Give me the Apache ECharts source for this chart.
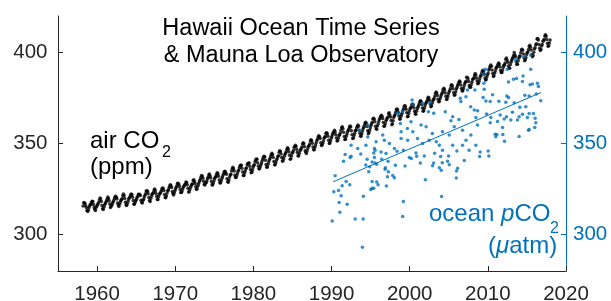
<!DOCTYPE html>
<html>
<head>
<meta charset="utf-8">
<script src="https://cdn.jsdelivr.net/npm/echarts@6.0.0/dist/echarts.min.js"></script>
<style>
  html, body { margin: 0; padding: 0; background: #fff; }
  #chart { width: 611px; height: 301px; }
</style>
</head>
<body>
<div id="chart"></div>
<script>
// Axis ticks
const xTicks = [1960, 1970, 1980, 1990, 2000, 2010, 2020];
const yTicks = [300, 350, 400];

// Mauna Loa monthly mean CO2 (ppm), starting March 1958, one row per year
const airStart = 1958 + 2.5 / 12;
const air1950s = [
  315.71, 317.45, 317.50, 317.10, 315.86, 314.93, 313.20, 312.66, 313.33, 314.67,
  315.62, 316.38, 316.71, 317.72, 318.29, 318.15, 316.54, 314.80, 313.84, 313.26, 314.80, 315.58,
];
const air1960s = [
  316.43, 316.97, 317.58, 319.02, 320.03, 319.59, 318.18, 315.91, 314.16, 313.83, 315.00, 316.19,
  316.93, 317.70, 318.54, 319.48, 320.58, 319.77, 318.57, 316.79, 314.80, 315.38, 316.10, 317.01,
  317.94, 318.56, 319.68, 320.63, 321.01, 320.55, 319.58, 317.40, 316.26, 315.42, 316.69, 317.69,
  318.74, 319.08, 319.86, 321.39, 322.25, 321.47, 319.74, 317.77, 316.21, 315.99, 317.12, 318.31,
  319.57, 320.07, 320.73, 321.77, 322.25, 321.89, 320.44, 318.70, 316.70, 316.79, 317.79, 318.71,
  319.44, 320.44, 320.89, 322.13, 322.16, 321.87, 321.39, 318.81, 317.81, 317.30, 318.87, 319.42,
  320.62, 321.59, 322.39, 323.87, 324.01, 323.75, 322.39, 320.37, 318.64, 318.10, 319.79, 321.08,
  322.07, 322.50, 323.04, 324.42, 325.00, 324.09, 322.55, 320.92, 319.31, 319.31, 320.72, 321.96,
  322.57, 323.15, 323.89, 325.02, 325.57, 325.36, 324.14, 322.03, 320.41, 320.25, 321.31, 322.84,
  324.00, 324.42, 325.64, 326.66, 327.34, 326.76, 325.88, 323.67, 322.38, 321.78, 322.85, 324.11,
];
const air1970s = [
  325.03, 325.99, 326.87, 328.13, 328.07, 327.66, 326.35, 324.69, 323.10, 323.16, 323.98, 325.13,
  326.17, 326.68, 327.18, 327.78, 328.92, 328.57, 327.34, 325.46, 323.36, 323.57, 324.80, 326.01,
  326.77, 327.63, 327.75, 329.72, 330.07, 329.09, 328.05, 326.32, 324.93, 325.06, 326.50, 327.55,
  328.54, 329.56, 330.30, 331.50, 332.48, 332.07, 330.87, 329.31, 327.51, 327.18, 328.16, 328.64,
  329.35, 330.71, 331.48, 332.65, 333.20, 332.16, 331.07, 329.12, 327.32, 327.28, 328.30, 329.58,
  330.73, 331.46, 331.90, 333.17, 333.94, 333.45, 331.97, 329.95, 328.50, 328.34, 329.37, 330.58,
  331.59, 332.75, 333.52, 334.64, 334.77, 334.00, 333.06, 330.68, 328.95, 328.75, 330.15, 331.62,
  332.66, 333.13, 334.95, 336.13, 336.93, 336.17, 334.88, 332.56, 331.29, 331.27, 332.41, 333.60,
  334.95, 335.25, 336.66, 337.69, 338.03, 338.01, 336.41, 334.41, 332.37, 332.41, 333.75, 334.90,
  336.14, 336.69, 338.27, 338.96, 339.21, 339.26, 337.54, 335.75, 333.98, 334.19, 335.31, 336.81,
];
const air1980s = [
  337.90, 338.34, 340.01, 340.93, 341.48, 341.33, 339.40, 337.70, 336.19, 336.15, 337.27, 338.32,
  339.29, 340.55, 341.61, 342.53, 343.03, 342.54, 340.78, 338.44, 336.95, 337.08, 338.58, 339.88,
  340.96, 341.73, 342.81, 343.97, 344.63, 343.79, 342.32, 340.09, 338.28, 338.29, 339.60, 340.90,
  341.68, 342.90, 343.33, 345.25, 346.03, 345.63, 344.19, 342.27, 340.35, 340.38, 341.59, 343.05,
  344.10, 344.79, 345.52, 346.84, 347.63, 346.98, 345.53, 343.55, 341.40, 341.67, 343.10, 344.70,
  345.21, 346.16, 347.74, 348.34, 349.06, 348.38, 346.72, 345.02, 343.27, 343.13, 344.49, 345.88,
  346.56, 347.28, 348.01, 349.77, 350.38, 349.93, 348.16, 346.08, 345.22, 344.51, 345.93, 347.22,
  348.52, 348.73, 349.73, 351.31, 352.09, 351.53, 350.11, 348.08, 346.52, 346.59, 347.96, 349.16,
  350.39, 351.64, 352.41, 353.69, 354.21, 353.72, 352.69, 350.40, 348.92, 349.13, 350.20, 351.41,
  352.91, 353.27, 353.96, 355.64, 355.86, 355.37, 353.99, 351.81, 350.05, 350.25, 351.49, 352.85,
];
const air1990s = [
  353.80, 355.04, 355.73, 356.32, 357.32, 356.34, 354.84, 353.01, 351.31, 351.62, 353.07, 354.33,
  354.84, 355.73, 357.23, 358.66, 359.13, 358.13, 356.19, 353.85, 352.25, 352.35, 353.81, 355.12,
  356.25, 357.11, 357.86, 359.09, 359.55, 359.00, 357.00, 354.78, 352.74, 353.07, 354.34, 355.57,
  357.00, 357.31, 358.47, 359.27, 360.19, 359.52, 357.33, 355.64, 354.03, 354.12, 355.41, 356.91,
  358.24, 358.92, 359.99, 361.23, 361.65, 360.83, 359.34, 357.05, 355.36, 355.88, 357.23, 358.63,
  359.83, 360.80, 361.66, 363.48, 363.82, 363.30, 361.94, 359.50, 358.11, 357.80, 359.61, 360.74,
  362.09, 363.29, 364.06, 364.76, 365.45, 365.01, 363.70, 361.54, 359.51, 359.65, 360.80, 362.38,
  363.23, 364.06, 364.61, 366.40, 366.84, 365.68, 364.52, 362.57, 360.24, 360.83, 362.49, 364.34,
  365.17, 365.78, 367.09, 368.67, 368.98, 368.42, 367.05, 365.08, 363.42, 363.50, 364.81, 365.96,
  366.86, 368.16, 369.06, 370.38, 370.88, 370.21, 368.87, 366.94, 364.70, 365.00, 366.50, 367.88,
];
const air2000s = [
  369.04, 369.44, 370.16, 371.42, 371.56, 371.21, 369.69, 367.71, 366.33, 366.10, 367.67, 368.91,
  369.96, 370.79, 371.81, 372.97, 373.43, 373.09, 371.41, 369.44, 367.72, 368.00, 369.38, 370.76,
  371.90, 372.53, 373.38, 374.47, 375.33, 375.02, 373.67, 371.64, 370.13, 370.53, 372.13, 373.31,
  374.14, 374.76, 375.94, 377.44, 378.32, 377.68, 376.41, 374.30, 372.94, 373.07, 374.47, 375.51,
  376.60, 377.42, 378.40, 379.81, 380.34, 379.55, 377.84, 375.92, 374.13, 374.44, 375.82, 377.19,
  378.24, 379.03, 380.18, 381.83, 382.19, 381.60, 380.03, 377.91, 376.51, 376.78, 378.29, 379.78,
  380.70, 381.68, 382.48, 383.61, 384.37, 383.75, 382.09, 380.19, 378.85, 378.99, 380.25, 381.63,
  382.75, 383.56, 384.22, 386.38, 386.21, 385.56, 384.02, 381.83, 380.83, 380.83, 382.32, 383.57,
  385.06, 385.72, 385.89, 387.39, 388.50, 387.63, 385.94, 384.27, 382.77, 383.03, 384.19, 385.58,
  386.87, 387.27, 388.42, 389.62, 390.26, 389.46, 387.96, 386.01, 384.93, 385.09, 386.55, 387.77,
];
const air2010s = [
  388.74, 390.35, 391.12, 392.39, 393.05, 392.43, 390.35, 388.49, 386.82, 387.17, 388.67, 389.76,
  391.23, 391.85, 392.41, 393.37, 394.20, 393.70, 392.18, 390.24, 389.03, 388.97, 390.19, 391.68,
  392.96, 393.16, 394.25, 396.19, 396.93, 395.91, 394.56, 392.59, 391.32, 391.27, 393.20, 394.57,
  395.51, 396.47, 397.28, 398.35, 399.98, 398.65, 397.60, 395.06, 393.56, 393.54, 395.25, 396.75,
  397.85, 398.01, 399.77, 401.38, 401.78, 401.25, 399.10, 397.03, 395.38, 396.03, 397.28, 398.91,
  399.98, 400.28, 401.54, 403.28, 403.96, 402.80, 401.31, 398.93, 397.63, 398.29, 400.16, 401.85,
  402.52, 404.04, 404.83, 407.42, 407.70, 406.81, 404.39, 402.25, 401.03, 401.57, 403.53, 404.42,
  406.17, 406.42, 407.18, 409.00, 409.65, 408.84, 407.07, 405.07, 403.38, 403.64, 405.14, 406.82,
];

// HOT surface ocean pCO2 (uatm): [decimal year, value]
const oceanPoints = [
  [1990.08, 307.5], [1990.29, 323.5], [1990.46, 332.3], [1990.89, 324.2], [1990.97, 317.6],
  [1991.06, 312.3], [1991.23, 321.3], [1991.36, 326.8], [1991.53, 340.2], [1991.74, 343.9],
  [1991.87, 329.2], [1992.00, 316.7], [1992.33, 327.4], [1992.38, 342.3], [1992.50, 343.0],
  [1992.50, 349.1], [1993.02, 308.6], [1993.35, 347.2], [1993.57, 357.3], [1993.74, 344.3],
  [1993.95, 293.0], [1994.04, 308.6], [1994.08, 321.1], [1994.38, 338.2], [1994.40, 349.1],
  [1994.55, 341.3], [1994.63, 360.1], [1994.63, 353.6], [1994.76, 334.5], [1994.89, 337.3],
  [1995.02, 324.8], [1995.19, 339.9], [1995.19, 329.2], [1995.19, 325.5], [1995.40, 344.8],
  [1995.40, 325.5], [1995.49, 342.3], [1995.49, 347.2], [1995.57, 346.3], [1995.57, 339.3],
  [1995.70, 350.9], [1995.78, 338.6], [1995.78, 328.8], [1995.95, 327.4], [1996.34, 345.4],
  [1996.42, 341.3], [1996.55, 354.6], [1996.76, 351.8], [1996.85, 335.8], [1996.89, 336.7],
  [1996.97, 344.5], [1997.02, 326.6], [1997.15, 331.8], [1997.23, 340.2], [1997.27, 334.5],
  [1997.40, 350.0], [1997.83, 332.5], [1998.04, 331.2], [1998.04, 347.2], [1998.17, 338.0],
  [1998.38, 345.8], [1998.46, 366.6], [1998.80, 361.0], [1998.90, 356.4], [1998.90, 352.8],
  [1999.10, 309.9], [1999.10, 367.4], [1999.19, 346.3], [1999.19, 318.2], [1999.40, 337.7],
  [1999.70, 358.3], [1999.74, 351.8], [1999.96, 342.3], [2000.17, 361.9], [2000.21, 341.7],
  [2000.30, 373.9], [2000.40, 371.5], [2000.40, 356.4], [2000.80, 344.8], [2000.89, 343.0],
  [2001.00, 352.8], [2001.36, 339.3], [2001.45, 360.1], [2001.65, 372.1], [2001.65, 350.0],
  [2001.87, 343.2], [2002.00, 330.1], [2002.10, 359.2], [2002.40, 367.4], [2002.50, 351.8],
  [2002.60, 372.4], [2002.90, 355.5], [2002.93, 337.8], [2003.06, 339.3], [2003.07, 366.6],
  [2003.19, 344.6], [2003.40, 350.9], [2003.79, 336.7], [2003.80, 349.1], [2003.96, 342.8],
  [2004.04, 335.3], [2004.08, 320.9], [2004.17, 339.5], [2004.20, 356.4], [2004.20, 346.3],
  [2004.55, 367.4], [2004.85, 340.2], [2004.98, 343.2], [2005.06, 338.4], [2005.06, 354.6],
  [2005.28, 362.5], [2005.50, 364.7], [2005.50, 349.1], [2005.70, 359.2], [2005.96, 331.0],
  [2006.00, 334.9], [2006.04, 345.9], [2006.13, 336.4], [2006.30, 363.2], [2006.47, 374.8],
  [2006.55, 373.0], [2006.76, 357.3], [2006.76, 349.1], [2006.98, 340.6], [2007.20, 375.7],
  [2007.20, 351.8], [2007.40, 379.4], [2007.60, 346.3], [2007.80, 370.2], [2007.83, 354.6],
  [2008.26, 368.4], [2008.34, 379.4], [2008.47, 364.3], [2008.47, 349.1], [2008.68, 368.0],
  [2008.68, 360.1], [2008.94, 342.8], [2009.02, 345.4], [2009.40, 388.1], [2009.40, 375.2],
  [2009.50, 383.1], [2009.53, 379.8], [2009.70, 390.8], [2009.75, 373.3], [2009.83, 366.2],
  [2010.04, 345.9], [2010.13, 343.2], [2010.30, 373.0], [2010.30, 361.4], [2010.38, 364.3],
  [2010.60, 376.7], [2010.94, 355.1], [2011.02, 353.7], [2011.15, 354.9], [2011.24, 362.1],
  [2011.41, 373.2], [2011.58, 365.6], [2011.88, 358.8], [2011.92, 354.9], [2012.09, 363.4],
  [2012.13, 351.3], [2012.30, 372.6], [2012.39, 364.7], [2012.43, 376.1], [2012.50, 390.8],
  [2012.64, 383.8], [2012.64, 375.2], [2012.94, 362.9], [2013.15, 367.1], [2013.28, 385.3],
  [2013.37, 372.4], [2013.57, 396.0], [2013.67, 385.7], [2013.79, 362.9], [2014.00, 364.7],
  [2014.00, 353.8], [2014.09, 369.9], [2014.43, 384.0], [2014.43, 366.0], [2014.51, 387.1],
  [2014.64, 397.8], [2014.73, 376.5], [2014.86, 370.2], [2015.06, 364.3], [2015.20, 357.3],
  [2015.28, 376.1], [2015.28, 366.5], [2015.28, 357.7], [2015.40, 382.2], [2015.49, 398.4],
  [2015.49, 390.8], [2015.70, 382.7], [2015.83, 366.5], [2016.00, 358.8], [2016.05, 363.8],
  [2016.14, 361.4], [2016.20, 377.2], [2016.34, 383.1], [2016.47, 381.3], [2016.77, 373.5],
];

// Linear trend of ocean pCO2, end points
const trendYears = [1990.2, 2016.8];
const trendPCO2 = [329.0, 378.0];

const FONT = '"Liberation Sans", Arial, Helvetica, sans-serif';
const BLUE = '#0072BD';
const AXIS = '#262626';

const airCO2 = [].concat(air1950s, air1960s, air1970s, air1980s, air1990s, air2000s, air2010s);
const airPoints = airCO2.map((v, i) => [airStart + i / 12, v]);
const trendPoints = trendYears.map((y, i) => [y, trendPCO2[i]]);

const chart = echarts.init(document.getElementById('chart'), null, { renderer: 'canvas' });

function label(x, y, text, size, color, extra) {
  return {
    type: 'text',
    x: x,
    y: y,
    silent: true,
    style: Object.assign({
      text: text,
      font: size + 'px ' + FONT,
      fill: color,
      align: 'left',
      textAlign: 'left',
      verticalAlign: 'middle',
      textVerticalAlign: 'middle',
    }, extra || {}),
  };
}

const plain = (v) => String(v);

chart.setOption({
  animation: false,
  grid: {
    left: 58,
    right: 45,
    top: 16,
    bottom: 30,
    outerBoundsMode: 'none',
    containLabel: false,
  },
  xAxis: {
    type: 'value',
    min: 1955,
    max: 2020,
    axisLine: { show: true, lineStyle: { color: AXIS, width: 1 } },
    axisTick: { show: true, inside: true, length: 5, customValues: xTicks, lineStyle: { color: AXIS } },
    axisLabel: { customValues: xTicks, formatter: plain, fontSize: 20.5, fontFamily: FONT, color: AXIS, margin: 13 },
    splitLine: { show: false },
  },
  yAxis: [
    {
      type: 'value',
      position: 'left',
      min: 280,
      max: 420,
      axisLine: { show: true, lineStyle: { color: AXIS, width: 1 } },
      axisTick: { show: true, inside: true, length: 5, customValues: yTicks, lineStyle: { color: AXIS } },
      axisLabel: { customValues: yTicks, formatter: plain, fontSize: 20.5, fontFamily: FONT, color: AXIS, margin: 10.5 },
      splitLine: { show: false },
    },
    {
      type: 'value',
      position: 'right',
      min: 280,
      max: 420,
      axisLine: { show: true, lineStyle: { color: BLUE, width: 1 } },
      axisTick: { show: true, inside: true, length: 5, customValues: yTicks, lineStyle: { color: BLUE } },
      axisLabel: { customValues: yTicks, formatter: plain, fontSize: 20.5, fontFamily: FONT, color: BLUE, margin: 7 },
      splitLine: { show: false },
    },
  ],
  series: [
    {
      name: 'air CO2',
      type: 'scatter',
      yAxisIndex: 0,
      data: airPoints,
      symbol: 'circle',
      symbolSize: 3.5,
      itemStyle: { color: '#000000' },
      silent: true,
      z: 2,
    },
    {
      name: 'ocean pCO2',
      type: 'scatter',
      yAxisIndex: 1,
      data: oceanPoints,
      symbol: 'circle',
      symbolSize: 3.5,
      itemStyle: { color: BLUE },
      silent: true,
      z: 3,
    },
    {
      name: 'trend',
      type: 'line',
      yAxisIndex: 1,
      data: trendPoints,
      showSymbol: false,
      lineStyle: { color: BLUE, width: 1 },
      silent: true,
      z: 4,
    },
  ],
  graphic: [
    label(301, 29, 'Hawaii Ocean Time Series', 23.5, '#000', { align: 'center', textAlign: 'center' }),
    label(301, 56, '& Mauna Loa Observatory', 23.5, '#000', { align: 'center', textAlign: 'center' }),
    label(90, 141, 'air CO', 24, '#000'),
    label(162, 152.5, '2', 16, '#000'),
    label(90, 167, '(ppm)', 24, '#000'),
    label(429, 214, 'ocean {i|p}CO', 24, BLUE, {
      rich: { i: { font: 'italic 24px ' + FONT, fill: BLUE } },
    }),
    label(550, 228.5, '2', 16, BLUE),
    label(488, 246, '({i|\u03bc}atm)', 24, BLUE, {
      rich: { i: { font: 'italic 24px ' + FONT, fill: BLUE } },
    }),
  ],
});
</script>
</body>
</html>
